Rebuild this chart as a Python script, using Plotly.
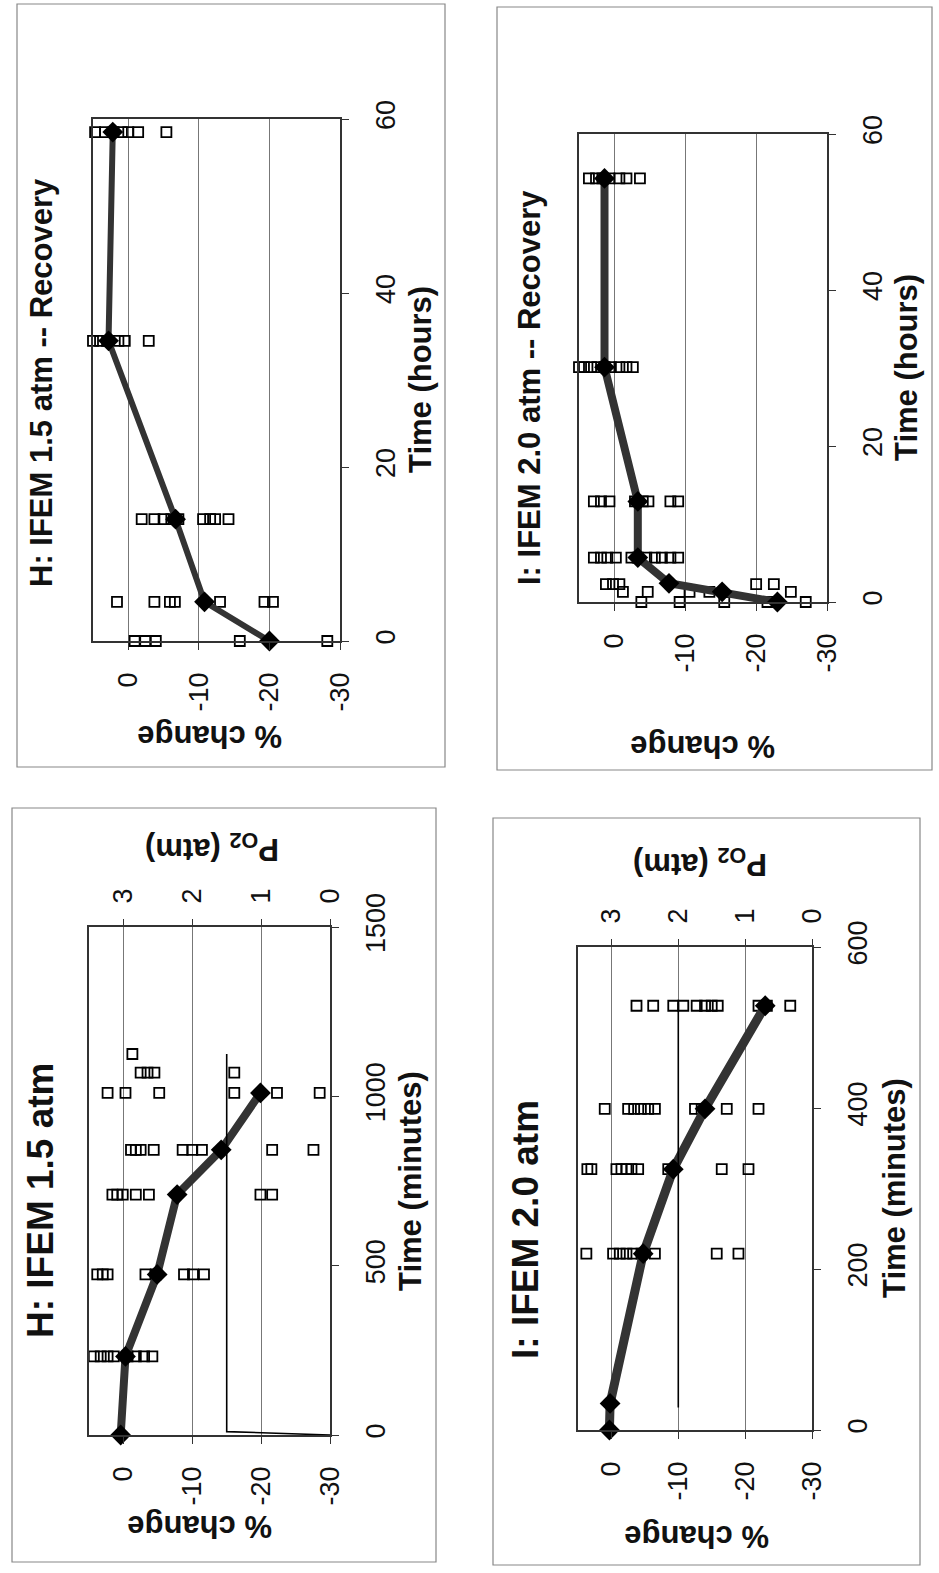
import plotly.graph_objects as go

W, H = 939, 1573
FONT = "Liberation Sans, Arial, sans-serif"

# ---------------- data ----------------
# H: IFEM 1.5 atm -- Recovery (time in hours)
h_rec_mean_time = [0, 4.5, 14, 34.5, 58.5]
h_rec_mean_pct = [-20, -10.8, -6.7, 2.8, 2.2]
h_rec_obs_time = [0, 4.5, 14, 34.5, 58.5]
h_rec_obs_pct = [
    [-0.9, -2.4, -3.9, -15.8, -28.2],
    [1.6, -3.7, -5.9, -6.6, -13.0, -19.3, -20.5],
    [-1.9, -3.7, -5.0, -6.1, -7.1, -10.6, -11.6, -12.3, -14.2],
    [5.0, 4.0, 3.0, 1.4, 0.5, -2.9],
    [4.7, 3.3, 2.1, 0.9, 0.0, -1.4, -5.4],
]

# I: IFEM 2.0 atm -- Recovery (time in hours)
i_rec_mean_time = [0, 1.3, 2.4, 5.7, 12.9, 30.1, 54.3]
i_rec_mean_pct = [-23, -15.2, -7.7, -3.3, -3.3, 1.4, 1.4]
i_rec_obs_time = [0, 1.3, 2.3, 5.7, 12.9, 30.1, 54.3]
i_rec_obs_pct = [
    [-3.8, -9.2, -15.5, -21.6, -27.0],
    [-1.2, -4.7, -10.6, -13.4, -24.9],
    [1.2, 0.2, -0.7, -20.0, -22.5],
    [2.9, 1.9, 1.0, -0.2, -2.4, -3.3, -4.5, -5.7, -6.7, -7.9, -9.0],
    [2.9, 1.9, 0.7, -2.9, -4.0, -4.8, -7.9, -9.0],
    [5.0, 4.3, 3.3, 2.4, 1.4, 0.5, -0.7, -1.7, -2.6],
    [3.6, 2.6, 1.7, 0.7, -0.7, -1.7, -3.6],
]

# H: IFEM 1.5 atm (time in minutes)
h_mean_time = [0, 232, 474, 710, 842, 1010]
h_mean_pct = [0.4, -0.3, -4.9, -7.8, -14.2, -19.9]
h_obs_time = [232, 474, 710, 842, 1010, 1070, 1125]
h_obs_pct = [
    [4.3, 3.3, 2.3, 1.4, -0.6, -1.8, -3.0, -4.2],
    [3.8, 3.0, 2.3, -3.2, -4.7, -8.8, -10.1, -11.7],
    [1.6, 0.9, 0.1, -1.8, -3.7, -19.9, -21.6],
    [-1.1, -1.8, -2.5, -4.4, -8.6, -10.0, -11.4, -21.6, -27.6],
    [2.3, -0.3, -5.2, -16.1, -22.3, -28.5],
    [-2.5, -3.5, -4.5, -16.1],
    [-1.3],
]
h_po2_time = [0, 10, 1125]
h_po2_atm = [0, 1.5, 1.5]

# I: IFEM 2.0 atm (time in minutes)
i_mean_time = [0, 33, 219, 324, 399, 527]
i_mean_pct = [0.3, 0.2, -4.75, -9.25, -14.0, -23.0]
i_obs_time = [219, 324, 399, 527]
i_obs_pct = [
    [3.75, -0.25, -1.25, -2.25, -3.25, -4.5, -6.5, -15.75, -19.0],
    [3.6, 3.0, -0.75, -1.5, -2.25, -3.0, -4.0, -8.5, -16.5, -20.5],
    [1.0, -2.5, -3.4, -4.4, -5.5, -6.5, -12.5, -13.5, -17.25, -22.0],
    [-3.75, -6.25, -9.25, -10.75, -12.75, -14.0, -15.0, -15.9, -22.0, -23.25, -26.75],
]
i_po2_time = [28, 530]
i_po2_atm = [2.0, 2.0]

pct_ticks = [0, -10, -20, -30]
po2_ticks = [0, 1, 2, 3]
hour_ticks = [0, 20, 40, 60]
h_min_ticks = [0, 500, 1000, 1500]
i_min_ticks = [0, 200, 400, 600]


def flatten(times, groups):
    xs, ys = [], []
    for t, vals in zip(times, groups):
        for v in vals:
            xs.append(v)
            ys.append(t)
    return xs, ys


# ---------------- layout geometry (pixels) ----------------
def fx(px):
    return px / W


def fy(py):
    return 1 - py / H


# plot areas: (left, right, top, bottom)
boxes = {
    "1": (93, 340, 119, 641),
    "2": (579, 827, 134, 602),
    "3": (89, 330, 927, 1435),
    "4": (578, 812, 947, 1430),
}

fig = go.Figure()

OBS = dict(symbol="square-open", size=10, color="black", line=dict(width=1.8, color="black"))
MEAN_M = dict(symbol="diamond", size=16, color="black")


def add_panel(ax, obs_t, obs_p, mean_t, mean_p, lw):
    xs, ys = flatten(obs_t, obs_p)
    xa = "x" if ax == "1" else "x" + ax
    ya = "y" if ax == "1" else "y" + ax
    fig.add_trace(go.Scatter(x=xs, y=ys, mode="markers", marker=OBS,
                             xaxis=xa, yaxis=ya, cliponaxis=False, showlegend=False))
    fig.add_trace(go.Scatter(x=mean_p, y=mean_t, mode="lines+markers",
                             line=dict(color="#333333", width=lw), marker=MEAN_M,
                             xaxis=xa, yaxis=ya, cliponaxis=False, showlegend=False))


add_panel("1", h_rec_obs_time, h_rec_obs_pct, h_rec_mean_time, h_rec_mean_pct, 6)
add_panel("2", i_rec_obs_time, i_rec_obs_pct, i_rec_mean_time, i_rec_mean_pct, 8)
add_panel("3", h_obs_time, h_obs_pct, h_mean_time, h_mean_pct, 8)
add_panel("4", i_obs_time, i_obs_pct, i_mean_time, i_mean_pct, 9)

# oxygen pressure profiles on the secondary (top) axes
fig.add_trace(go.Scatter(x=h_po2_atm, y=h_po2_time, mode="lines",
                         line=dict(color="black", width=1.6), xaxis="x5", yaxis="y3",
                         showlegend=False))
fig.add_trace(go.Scatter(x=i_po2_atm, y=i_po2_time, mode="lines",
                         line=dict(color="black", width=1.6), xaxis="x6", yaxis="y4",
                         showlegend=False))

TICKFONT = dict(family=FONT, size=27, color="#111")
AXLINE = dict(showline=True, linecolor="#333", linewidth=1.5, mirror=True,
              ticks="outside", ticklen=7, tickcolor="#333", tickwidth=1.2,
              zeroline=False, tickfont=TICKFONT, tickangle=-90, automargin=False)

layout = dict(width=W, height=H,
              margin=dict(l=0, r=0, t=0, b=0, pad=0, autoexpand=False),
              paper_bgcolor="white", plot_bgcolor="white", showlegend=False)

time_ticks = {"1": hour_ticks, "2": hour_ticks, "3": h_min_ticks, "4": i_min_ticks}
for k, (l, r, t, b) in boxes.items():
    xname = "xaxis" if k == "1" else "xaxis" + k
    yname = "yaxis" if k == "1" else "yaxis" + k
    tt = time_ticks[k]
    layout[xname] = dict(AXLINE, domain=[fx(l), fx(r)], range=[5, -30],
                         tickvals=pct_ticks, ticktext=[str(v) for v in pct_ticks],
                         showgrid=True, gridcolor="#777", gridwidth=1,
                         anchor="y" if k == "1" else "y" + k, side="bottom",
                         ticklabelstandoff=12)
    layout[yname] = dict(AXLINE, domain=[fy(b), fy(t)], range=[tt[0], tt[-1]],
                         tickvals=tt, ticktext=[str(v) for v in tt],
                         showgrid=False, side="right",
                         anchor="x" if k == "1" else "x" + k,
                         ticklabelstandoff=14)

for k, base in (("5", "3"), ("6", "4")):
    layout["xaxis" + k] = dict(AXLINE, overlaying="x" + base, anchor="y" + base,
                               side="top", range=[3.5, 0], tickvals=po2_ticks,
                               ticktext=[str(v) for v in po2_ticks], showgrid=False,
                               showline=False, ticklabelstandoff=10)

fig.update_layout(**layout)

TITLE = dict(family=FONT, size=31, color="#111")
ann = []


def text(s, x, y, angle, size=31):
    ann.append(dict(text=s, x=fx(x), y=fy(y), xref="paper", yref="paper",
                    showarrow=False, textangle=angle, font=dict(TITLE, size=size),
                    xanchor="center", yanchor="middle"))


text("<b>H: IFEM 1.5 atm -- Recovery</b>", 42, 383, -90)
text("<b>I: IFEM 2.0 atm -- Recovery</b>", 530, 388, -90)
text("<b>H: IFEM 1.5 atm</b>", 40, 1200, -90, size=37)
text("<b>I: IFEM 2.0 atm</b>", 525, 1230, -90, size=37)

text("<b>% change</b>", 210, 737, 180)
text("<b>% change</b>", 703, 747, 180)
text("<b>% change</b>", 200, 1527, 180)
text("<b>% change</b>", 697, 1537, 180)

text("<b>Time (hours)</b>", 420, 380, -90)
text("<b>Time (hours)</b>", 907, 368, -90)
text("<b>Time (minutes)</b>", 410, 1181, -90)
text("<b>Time (minutes)</b>", 894, 1188, -90)

text("<b>P<sub>O2</sub> (atm)</b>", 212, 847, 180)
text("<b>P<sub>O2</sub> (atm)</b>", 700, 862, 180)

fig.update_layout(annotations=ann)

# panel frames
frames = [(17, 445, 4, 767), (497, 932, 7, 770), (12, 436, 808, 1562), (493, 920, 818, 1565)]
for l, r, t, b in frames:
    fig.add_shape(type="rect", xref="paper", yref="paper",
                  x0=fx(l), x1=fx(r), y0=fy(b), y1=fy(t),
                  line=dict(color="#888", width=1.2), layer="below")

fig.write_html("out.html")
